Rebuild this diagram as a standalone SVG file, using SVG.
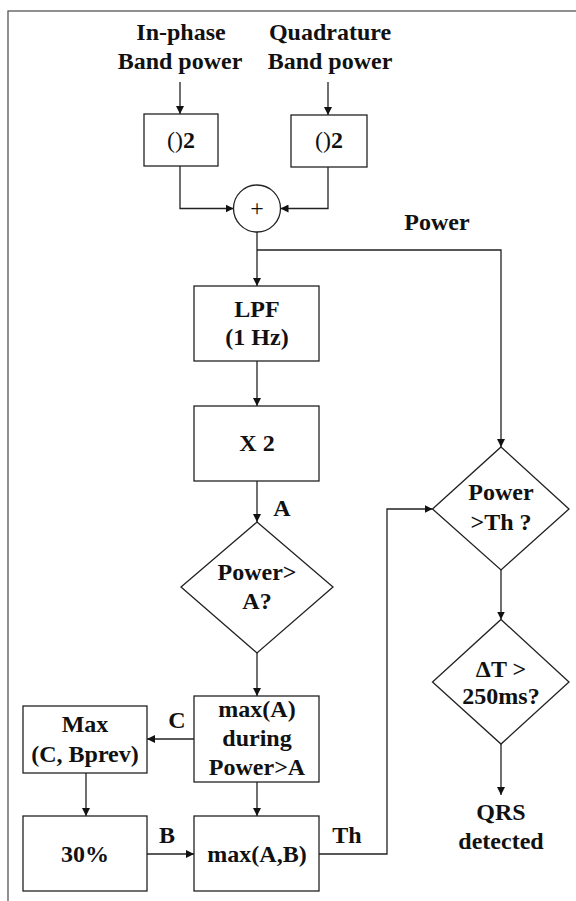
<svg xmlns="http://www.w3.org/2000/svg" width="576" height="901" viewBox="0 0 576 901">
<style>
.t{font-family:"Liberation Serif","Times New Roman",serif;font-weight:bold;font-size:24px;fill:#111;text-anchor:middle}
.r{font-weight:normal}
.s{fill:#fff;stroke:#222;stroke-width:1.3}
.c{fill:none;stroke:#222;stroke-width:1.3}
</style>
<defs>
<marker id="ah" viewBox="0 0 10 10" refX="10" refY="5" markerWidth="8" markerHeight="8" markerUnits="userSpaceOnUse" orient="auto">
<path d="M0,0 L10,5 L0,10 Z" fill="#111"/>
</marker>
</defs>
<rect x="0" y="0" width="576" height="901" fill="#fff"/>
<rect x="8" y="11" width="620" height="950" fill="none" stroke="#555" stroke-width="1.3"/>

<g id="connectors">
<path class="c" d="M180,82 V114" marker-end="url(#ah)"/>
<path class="c" d="M328,82 V115" marker-end="url(#ah)"/>
<path class="c" d="M180,166 V208.5 H233.5" marker-end="url(#ah)"/>
<path class="c" d="M328,167 V208.5 H280.5" marker-end="url(#ah)"/>
<path class="c" d="M257,232 V286" marker-end="url(#ah)"/>
<path class="c" d="M257,250 H501 V447" marker-end="url(#ah)"/>
<path class="c" d="M257,361 V406" marker-end="url(#ah)"/>
<path class="c" d="M257,481 V522" marker-end="url(#ah)"/>
<path class="c" d="M257,653 V696" marker-end="url(#ah)"/>
<path class="c" d="M194,739 H147" marker-end="url(#ah)"/>
<path class="c" d="M86,773 V816" marker-end="url(#ah)"/>
<path class="c" d="M147,854 H194" marker-end="url(#ah)"/>
<path class="c" d="M257,782 V816" marker-end="url(#ah)"/>
<path class="c" d="M319,854 H387 V509 H432.5" marker-end="url(#ah)"/>
<path class="c" d="M501,570 V619.5" marker-end="url(#ah)"/>
<path class="c" d="M501,744 V795" marker-end="url(#ah)"/>
</g>

<g id="labels">
<text class="t" x="181" y="40">In-phase</text>
<text class="t" x="180" y="69">Band power</text>
<text class="t" x="330" y="40">Quadrature</text>
<text class="t" x="330" y="69">Band power</text>
<text class="t" x="437" y="230">Power</text>
<text class="t" x="282" y="516">A</text>
<text class="t" x="177" y="728">C</text>
<text class="t" x="167" y="843">B</text>
<text class="t" x="347" y="843">Th</text>
</g>

<g id="sq1">
<rect class="s" x="144" y="114" width="74" height="52"/>
<text class="t" x="181" y="148"><tspan class="r">()</tspan>2</text>
</g>
<g id="sq2">
<rect class="s" x="291" y="115" width="76" height="52"/>
<text class="t" x="329" y="148"><tspan class="r">()</tspan>2</text>
</g>
<g id="sum">
<circle class="s" cx="257" cy="208.5" r="23.5"/>
<text class="t r" x="257" y="216">+</text>
</g>
<g id="lpf">
<rect class="s" x="194" y="286" width="125" height="75"/>
<text class="t" x="257" y="317">LPF</text>
<text class="t" x="257" y="345">(1 Hz)</text>
</g>
<g id="x2">
<rect class="s" x="194" y="406" width="125" height="75"/>
<text class="t" x="257" y="451">X 2</text>
</g>
<g id="dec1">
<path class="s" d="M257,522 L333,587 L257,653 L181,587 Z"/>
<text class="t" x="257" y="580">Power&gt;</text>
<text class="t" x="257" y="609">A?</text>
</g>
<g id="maxA">
<rect class="s" x="194" y="696" width="125" height="86"/>
<text class="t" x="257" y="717">max(A)</text>
<text class="t" x="257" y="746">during</text>
<text class="t" x="257" y="775">Power&gt;A</text>
</g>
<g id="maxC">
<rect class="s" x="23" y="706" width="124" height="67"/>
<text class="t" x="85" y="732">Max</text>
<text class="t" x="85" y="762">(C, Bprev)</text>
</g>
<g id="pct">
<rect class="s" x="23" y="816" width="124" height="75"/>
<text class="t" x="85" y="862">30%</text>
</g>
<g id="maxAB">
<rect class="s" x="194" y="816" width="125" height="75"/>
<text class="t" x="257" y="862">max(A,B)</text>
</g>
<g id="dec2">
<path class="s" d="M501,447 L569,509 L501,570 L432.5,509 Z"/>
<text class="t" x="501" y="500">Power</text>
<text class="t" x="501" y="530">&gt;Th ?</text>
</g>
<g id="dec3">
<path class="s" d="M501,619.5 L569,682 L501,744 L432.5,682 Z"/>
<text class="t" x="501" y="677">ΔT &gt;</text>
<text class="t" x="501" y="704">250ms?</text>
</g>
<g id="qrs">
<text class="t" x="501" y="820">QRS</text>
<text class="t" x="501" y="849">detected</text>
</g>
</svg>
